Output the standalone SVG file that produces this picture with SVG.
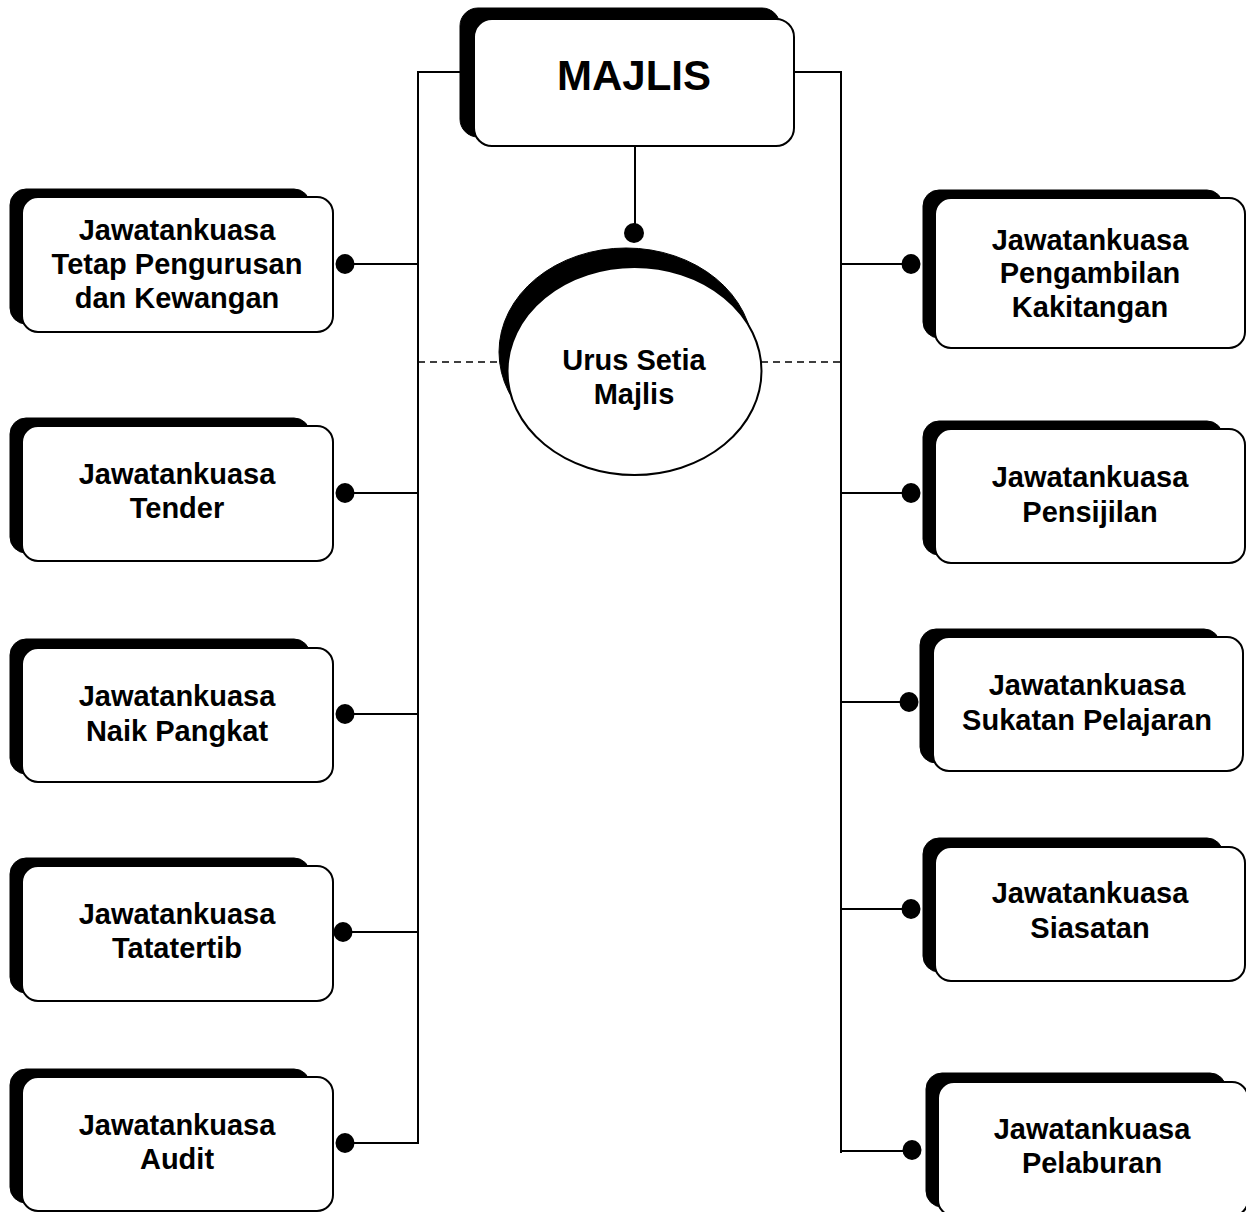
<svg xmlns="http://www.w3.org/2000/svg" width="1246" height="1212" viewBox="0 0 1246 1212">
<style>
.sh{fill:#000;stroke:#000;stroke-width:1}
.bx{fill:#fff;stroke:#000;stroke-width:2}
.ln{stroke:#000;stroke-width:2;fill:none}
.dash{stroke:#000;stroke-width:1.5;stroke-dasharray:7 5;fill:none}
.dot{fill:#000}
text{font-family:"Liberation Sans",Arial,sans-serif;font-weight:bold;fill:#000;text-anchor:middle}
.t{font-size:29px}
</style>
<rect width="1246" height="1212" fill="#fff"/>
<g id="connectors">
<polyline class="ln" points="460,72 418,72 418,1144"/>
<polyline class="ln" points="794,72 841,72 841,1153"/>
<line class="ln" x1="635" y1="146" x2="635" y2="230"/>
<ellipse class="dot" cx="634" cy="233" rx="10" ry="10"/>
<line class="dash" x1="418" y1="362" x2="500" y2="362"/>
<line class="dash" x1="761" y1="362" x2="841" y2="362"/>
<line class="ln" x1="345" y1="264" x2="418" y2="264"/>
<line class="ln" x1="345" y1="493" x2="418" y2="493"/>
<line class="ln" x1="345" y1="714" x2="418" y2="714"/>
<line class="ln" x1="343" y1="932" x2="418" y2="932"/>
<line class="ln" x1="345" y1="1143" x2="418" y2="1143"/>
<line class="ln" x1="841" y1="264" x2="911" y2="264"/>
<line class="ln" x1="841" y1="493" x2="911" y2="493"/>
<line class="ln" x1="841" y1="702" x2="909" y2="702"/>
<line class="ln" x1="841" y1="909" x2="911" y2="909"/>
<line class="ln" x1="841" y1="1151" x2="912" y2="1151"/>
<ellipse class="dot" cx="345" cy="264" rx="9.5" ry="10"/>
<ellipse class="dot" cx="345" cy="493" rx="9.5" ry="10"/>
<ellipse class="dot" cx="345" cy="714" rx="9.5" ry="10"/>
<ellipse class="dot" cx="343" cy="932" rx="9.5" ry="10"/>
<ellipse class="dot" cx="345" cy="1143" rx="9.5" ry="10"/>
<ellipse class="dot" cx="911" cy="264" rx="9.5" ry="10"/>
<ellipse class="dot" cx="911" cy="493" rx="9.5" ry="10"/>
<ellipse class="dot" cx="909" cy="702" rx="9.5" ry="10"/>
<ellipse class="dot" cx="911" cy="909" rx="9.5" ry="10"/>
<ellipse class="dot" cx="912" cy="1150" rx="9.5" ry="10"/>
</g>
<g id="majlis">
<rect class="sh" x="460" y="8" width="320" height="129" rx="18"/>
<rect class="bx" x="474" y="19" width="320" height="127" rx="18"/>
<text x="634" y="90" style="font-size:42px">MAJLIS</text>
</g>
<g id="urus-setia">
<ellipse class="sh" cx="626" cy="352" rx="127" ry="104"/>
<ellipse class="bx" cx="634.5" cy="371" rx="127" ry="104"/>
<text class="t" x="634" y="370">Urus Setia</text>
<text class="t" x="634" y="404">Majlis</text>
</g>
<g id="jk-tetap">
<rect class="sh" x="10" y="189" width="300" height="135" rx="16"/>
<rect class="bx" x="22" y="197" width="311" height="135" rx="16"/>
<text class="t" x="177" y="240">Jawatankuasa</text>
<text class="t" x="177" y="274">Tetap Pengurusan</text>
<text class="t" x="177" y="308">dan Kewangan</text>
</g>
<g id="jk-tender">
<rect class="sh" x="10" y="418" width="300" height="135" rx="16"/>
<rect class="bx" x="22" y="426" width="311" height="135" rx="16"/>
<text class="t" x="177" y="484">Jawatankuasa</text>
<text class="t" x="177" y="518">Tender</text>
</g>
<g id="jk-naik-pangkat">
<rect class="sh" x="10" y="639" width="300" height="135" rx="16"/>
<rect class="bx" x="22" y="648" width="311" height="134" rx="16"/>
<text class="t" x="177" y="706">Jawatankuasa</text>
<text class="t" x="177" y="741">Naik Pangkat</text>
</g>
<g id="jk-tatatertib">
<rect class="sh" x="10" y="858" width="300" height="135" rx="16"/>
<rect class="bx" x="22" y="866" width="311" height="135" rx="16"/>
<text class="t" x="177" y="924">Jawatankuasa</text>
<text class="t" x="177" y="958">Tatatertib</text>
</g>
<g id="jk-audit">
<rect class="sh" x="10" y="1069" width="300" height="134" rx="16"/>
<rect class="bx" x="22" y="1077" width="311" height="134" rx="16"/>
<text class="t" x="177" y="1135">Jawatankuasa</text>
<text class="t" x="177" y="1169">Audit</text>
</g>
<g id="jk-pengambilan">
<rect class="sh" x="923" y="190" width="300" height="148" rx="16"/>
<rect class="bx" x="935" y="198" width="310" height="150" rx="16"/>
<text class="t" x="1090" y="250">Jawatankuasa</text>
<text class="t" x="1090" y="283">Pengambilan</text>
<text class="t" x="1090" y="317">Kakitangan</text>
</g>
<g id="jk-pensijilan">
<rect class="sh" x="923" y="421" width="300" height="134" rx="16"/>
<rect class="bx" x="935" y="429" width="310" height="134" rx="16"/>
<text class="t" x="1090" y="487">Jawatankuasa</text>
<text class="t" x="1090" y="522">Pensijilan</text>
</g>
<g id="jk-sukatan">
<rect class="sh" x="920" y="629" width="300" height="134" rx="16"/>
<rect class="bx" x="933" y="637" width="310" height="134" rx="16"/>
<text class="t" x="1087" y="695">Jawatankuasa</text>
<text class="t" x="1087" y="730">Sukatan Pelajaran</text>
</g>
<g id="jk-siasatan">
<rect class="sh" x="923" y="838" width="300" height="134" rx="16"/>
<rect class="bx" x="935" y="847" width="310" height="134" rx="16"/>
<text class="t" x="1090" y="903">Jawatankuasa</text>
<text class="t" x="1090" y="938">Siasatan</text>
</g>
<g id="jk-pelaburan">
<rect class="sh" x="926" y="1073" width="300" height="134" rx="16"/>
<rect class="bx" x="938" y="1082" width="310" height="134" rx="16"/>
<text class="t" x="1092" y="1139">Jawatankuasa</text>
<text class="t" x="1092" y="1173">Pelaburan</text>
</g>
</svg>
